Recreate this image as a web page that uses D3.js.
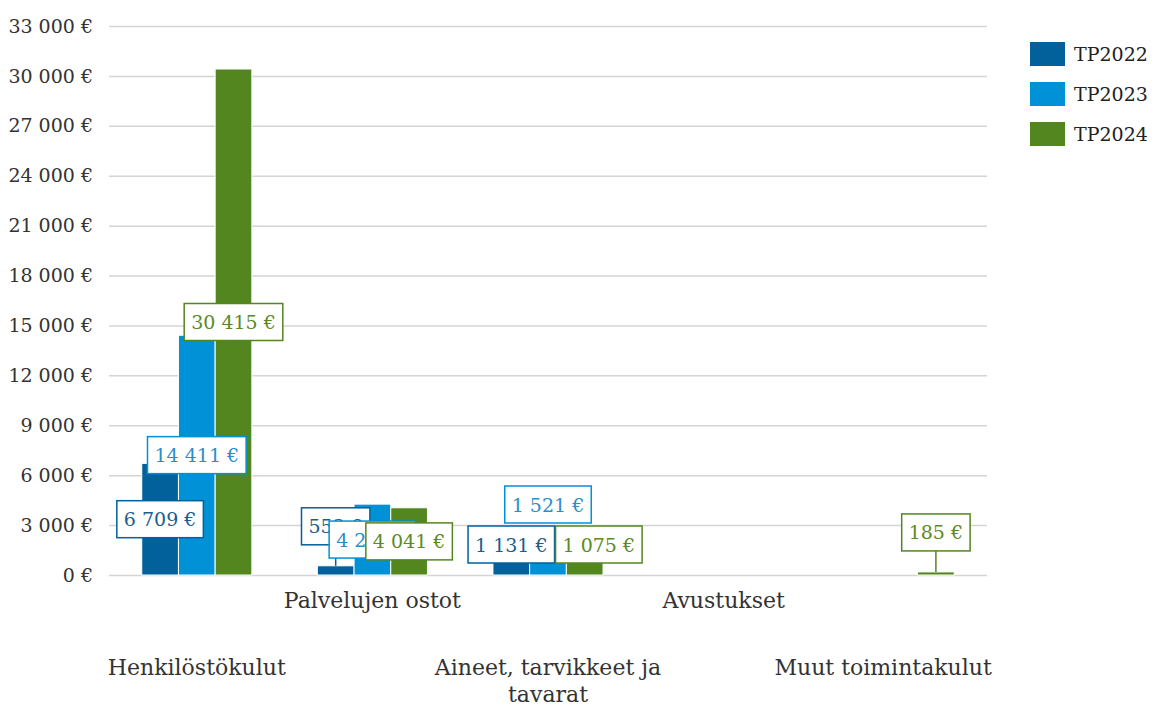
<!DOCTYPE html>
<html>
<head>
<meta charset="utf-8">
<script src="https://cdn.jsdelivr.net/npm/d3@7"></script>
<style>
  body { margin: 0; background: #fff; }
  svg { display: block; font-family: 'DejaVu Serif', serif; }
</style>
</head>
<body>
<div class="container"></div>
<script>
const categories = ['Henkilöstökulut', 'Palvelujen ostot', 'Aineet, tarvikkeet ja tavarat', 'Avustukset', 'Muut toimintakulut'];
const series = ['TP2022', 'TP2023', 'TP2024'];
const tp2022 = [6709, 553, 1131, null, null];
const tp2023 = [14411, 4260, 1521, null, null];
const tp2024 = [30415, 4041, 1075, null, 185];
const yTicks = [0, 3000, 6000, 9000, 12000, 15000, 18000, 21000, 24000, 27000, 30000, 33000];

const values = [tp2022, tp2023, tp2024];
const colors = ['#02609a', '#0091d6', '#54861f'];
const textColors = ['#1c5d8e', '#2a8ecb', '#5b8a25'];

const euro = v => `${d3.format(',')(v).replace(/,/g, '\u00a0')}\u00a0€`;

const renderChart = () => {
  const width = 1155;
  const height = 709;
  const plotLeft = 109;
  const plotRight = 987;
  const plotTop = 26;
  const plotBottom = 575;

  const svg = d3.select('.container').append('svg').attr('width', width).attr('height', height);

  const x0 = d3
    .scaleBand()
    .domain(categories)
    .range([plotLeft, plotRight])
    .paddingInner(0.373)
    .paddingOuter(0.1865);

  const x1 = d3.scaleBand().domain(series).range([0, x0.bandwidth()]);

  const y = d3.scaleLinear().domain([0, 33000]).range([plotBottom, plotTop]);

  // grid + y labels
  const leftAxis = d3
    .axisLeft(y)
    .tickValues(yTicks)
    .tickSize(-(plotRight - plotLeft))
    .tickPadding(16)
    .tickFormat(euro);

  const leftAxisGroup = svg.append('g').attr('class', 'left-axis').attr('transform', `translate(${plotLeft},0)`);
  leftAxis(leftAxisGroup);
  leftAxisGroup.select('.domain').remove();
  leftAxisGroup.selectAll('line').attr('stroke', '#d4d4d4').attr('stroke-width', 1.5);
  leftAxisGroup
    .selectAll('text')
    .attr('fill', '#333')
    .style('font-size', '19px')
    .style('font-family', "'DejaVu Serif', serif");

  // bars
  const barGroup = svg.append('g').attr('class', 'bars');
  series.forEach((s, si) => {
    barGroup
      .selectAll(`.bar-${si}`)
      .data(values[si].map((v, ci) => ({ v, ci })).filter(d => d.v != null))
      .enter()
      .append('rect')
      .attr('class', `bar-${si}`)
      .attr('x', d => x0(categories[d.ci]) + x1(s))
      .attr('width', x1.bandwidth())
      .attr('y', d => y(d.v))
      .attr('height', d => y(0) - y(d.v))
      .attr('fill', colors[si])
      .attr('stroke', 'white')
      .attr('stroke-width', 1);
  });

  // category labels, staggered in two rows
  const xLabels = svg.append('g').attr('class', 'x-labels');
  const wrapWidth = 240;
  categories.forEach((c, ci) => {
    const cx = x0(c) + x0.bandwidth() / 2;
    const baseY = ci % 2 === 1 ? 608 : 675;
    const text = xLabels
      .append('text')
      .attr('text-anchor', 'middle')
      .attr('fill', '#333')
      .style('font-size', '22px');
    const words = c.split(' ');
    let lines = [];
    let line = [];
    words.forEach(w => {
      line.push(w);
      text.text(line.join(' '));
      if (text.node().getComputedTextLength() > wrapWidth && line.length > 1) {
        line.pop();
        lines.push(line.join(' '));
        line = [w];
      }
    });
    lines.push(line.join(' '));
    text.text(null);
    lines.forEach((l, li) => {
      text
        .append('tspan')
        .attr('x', cx)
        .attr('y', baseY + li * 27)
        .text(l);
    });
    // keep label inside the chart on the right
    const bb = text.node().getBBox();
    const overflow = bb.x + bb.width - (plotRight + 5);
    if (overflow > 0) text.selectAll('tspan').attr('x', cx - overflow);
  });

  // data labels
  const boxH = 37;
  const padX = 7;
  const labelGroup = svg.append('g').attr('class', 'data-labels');
  const placed = [];
  series.forEach((s, si) => {
    values[si].forEach((v, ci) => {
      if (v == null) return;
      const cx = x0(categories[ci]) + x1(s) + x1.bandwidth() / 2;
      const top = y(v);
      const g = labelGroup.append('g');
      const line = g.append('line');
      const rect = g.append('rect');
      const text = g
        .append('text')
        .attr('text-anchor', 'middle')
        .attr('dominant-baseline', 'central')
        .attr('fill', textColors[si])
        .style('font-size', '19px')
        .text(euro(v));
      const bw = text.node().getComputedTextLength() + padX * 2;
      const box = { x0: cx - bw / 2, y0: 0, w: bw, callout: false, clamped: false };
      if (y(0) - top < 12) {
        box.callout = true;
        box.y0 = top - 21 - boxH;
      } else {
        box.y0 = (top + y(0)) / 2 - boxH / 2;
        if (box.y0 + boxH > y(0) - 12) {
          box.y0 = y(0) - 12 - boxH;
          box.clamped = true;
        }
      }
      if (box.clamped) {
        placed.forEach(b => {
          const ox = Math.min(b.x0 + b.w, box.x0 + box.w) - Math.max(b.x0, box.x0);
          const oy = Math.min(b.y0 + boxH, box.y0 + boxH) - Math.max(b.y0, box.y0);
          if (ox > 0 && oy > 0) {
            if (ox < box.w * 0.3) box.x0 += ox + 1;
            else box.y0 = b.y0 - 3 - boxH;
          }
        });
        placed.push(box);
      }
      if (box.callout) {
        line
          .attr('x1', cx)
          .attr('x2', cx)
          .attr('y1', box.y0 + boxH)
          .attr('y2', top)
          .attr('stroke', colors[si])
          .attr('stroke-width', 1.5);
      }
      rect
        .attr('x', box.x0)
        .attr('y', box.y0)
        .attr('width', box.w)
        .attr('height', boxH)
        .attr('fill', 'white')
        .attr('stroke', colors[si])
        .attr('stroke-width', 1.5);
      text.attr('x', box.x0 + box.w / 2).attr('y', box.y0 + boxH / 2);
    });
  });

  // legend
  const legend = svg.append('g').attr('class', 'legend').attr('transform', 'translate(1030,42)');
  const item = legend
    .selectAll('g')
    .data(series)
    .enter()
    .append('g')
    .attr('transform', (d, i) => `translate(0,${i * 40})`);
  item
    .append('rect')
    .attr('width', 35)
    .attr('height', 24)
    .attr('fill', (d, i) => colors[i]);
  item
    .append('text')
    .attr('x', 44)
    .attr('y', 12)
    .attr('dominant-baseline', 'central')
    .attr('fill', '#222')
    .style('font-size', '19px')
    .text(d => d);
};

renderChart();
</script>
</body>
</html>
